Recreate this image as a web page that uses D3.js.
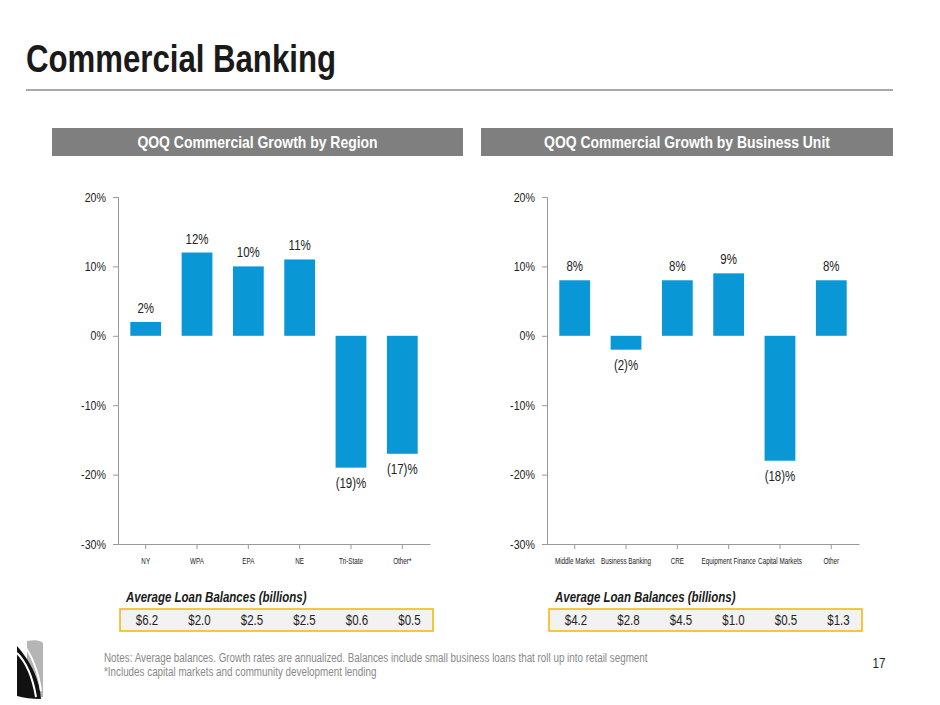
<!DOCTYPE html>
<html><head><meta charset="utf-8">
<script src="https://cdn.jsdelivr.net/npm/d3@7"></script>
<style>body{margin:0;background:#fff}text{font-family:"Liberation Sans",Arial,sans-serif}</style>
</head><body><svg id="c" width="940" height="705"></svg>
<script>
var regionCats = ["NY","WPA","EPA","NE","Tri-State","Other*"];
var regionVals = [2,12,10,11,-19,-17];
var regionBal = ["$6.2","$2.0","$2.5","$2.5","$0.6","$0.5"];
var unitCats = ["Middle Market","Business Banking","CRE","Equipment Finance","Capital Markets","Other"];
var unitVals = [8,-2,8,9,-18,8];
var unitBal = ["$4.2","$2.8","$4.5","$1.0","$0.5","$1.3"];
var yTicks = [20,10,0,-10,-20,-30];

var svg = d3.select("#c");
var blue = "#0a97d6";

// title
svg.append("text").attr("x",26).attr("y",72).attr("font-size",38).attr("font-weight","bold")
	.attr("fill","#1a1a1a").text("Commercial Banking");
svg.append("line").attr("x1",26).attr("x2",893).attr("y1",90).attr("y2",90).attr("stroke","#8c8c8c").attr("stroke-width",1.5);

var drawChart = function(ox, title, cats, vals, bal, hx, hw) {
	svg.append("rect").attr("x",hx).attr("y",128).attr("width",hw).attr("height",28).attr("fill","#7f7f7f");
	svg.append("text").attr("x",hx+hw/2).attr("y",148).attr("text-anchor","middle").attr("font-size",17)
		.attr("font-weight","bold").attr("fill","#fff").text(title);

	var x = d3.scaleBand().domain(cats).range([ox, ox+312]).paddingInner(0.4).paddingOuter(0.24);
	var y = d3.scaleLinear().domain([-30,20]).range([544,197]);

	var g = svg.append("g");
	g.append("g").attr("transform","translate("+ox+",0)")
		.call(d3.axisLeft(y).tickValues(yTicks).tickSize(5).tickFormat(function(d){return d+"%";}))
		.call(function(a){a.selectAll("text").attr("font-size",13).attr("fill","#222").attr("dx",-4);
			a.selectAll("line,path").attr("stroke","#999");});
	g.append("g").attr("transform","translate(0,544)")
		.call(d3.axisBottom(x).tickSize(5).tickSizeOuter(0))
		.call(function(a){a.selectAll("text").attr("class","xt").attr("font-size",9).attr("fill","#222").attr("dy",12);
			a.selectAll("line,path").attr("stroke","#999");});

	g.selectAll("rect.bar").data(vals).enter().append("rect").attr("class","bar")
		.attr("x",function(d,i){return x(cats[i]);}).attr("width",x.bandwidth())
		.attr("y",function(d){return y(Math.max(d,0));})
		.attr("height",function(d){return Math.abs(y(d)-y(0));})
		.attr("fill",blue);
	g.selectAll("text.lab").data(vals).enter().append("text").attr("class","lab")
		.attr("x",function(d,i){return x(cats[i])+x.bandwidth()/2;})
		.attr("y",function(d){return d>=0 ? y(d)-9 : y(d)+20;})
		.attr("text-anchor","middle").attr("font-size",14).attr("fill","#222")
		.text(function(d){return d>=0 ? d+"%" : "("+(-d)+")%";});

	// balances
	var bx = ox+2;
	svg.append("text").attr("x",bx+6).attr("y",602).attr("font-size",14).attr("font-weight","bold")
		.attr("font-style","italic").attr("fill","#1a1a1a").text("Average Loan Balances (billions)");
	svg.append("rect").attr("x",bx).attr("y",609).attr("width",313).attr("height",22)
		.attr("fill","#f2f2f2").attr("stroke","#f5b700").attr("stroke-width",1.5);
	svg.selectAll(null).data(bal).enter().append("text")
		.attr("x",function(d,i){return bx+27+i*52.5;}).attr("y",625).attr("text-anchor","middle")
		.attr("font-size",14).attr("fill","#222").text(function(d){return d;});
};

drawChart(118, "QOQ Commercial Growth by Region", regionCats, regionVals, regionBal, 52, 411);
drawChart(547, "QOQ Commercial Growth by Business Unit", unitCats, unitVals, unitBal, 481, 412);

// footer
svg.append("text").attr("x",104).attr("y",662).attr("font-size",12).attr("fill","#888")
	.text("Notes: Average balances. Growth rates are annualized. Balances include small business loans that roll up into retail segment");
svg.append("text").attr("x",104).attr("y",676).attr("font-size",12).attr("fill","#888")
	.text("*Includes capital markets and community development lending");
svg.append("text").attr("x",879).attr("y",668).attr("font-size",14).attr("fill","#222").attr("text-anchor","middle").text("17");

// condense all text (no narrow font installed)
svg.selectAll("text").each(function() {
	var w = this.getComputedTextLength();
	var f = d3.select(this).classed("xt") ? 0.7 : 0.82;
	if (w > 0) d3.select(this).attr("textLength", w*f).attr("lengthAdjust","spacingAndGlyphs");
});

// logo
var lg = svg.append("g").attr("transform","translate(17,641)");
lg.append("path").attr("d","M10,0 Q22,-2 26,2 L26,56 Q18,58 10,56 Z").attr("fill","#b5b5b5");
lg.append("path").attr("d","M0,5 L0,55 Q10,58 24,58 Q22,30 0,5 Z").attr("fill","#111");
lg.append("path").attr("d","M4,0 Q20,20 24,50").attr("stroke","#fff").attr("stroke-width",2).attr("fill","none");
lg.append("path").attr("d","M0,12 Q14,26 19,56").attr("stroke","#fff").attr("stroke-width",2).attr("fill","none");
</script></body></html>
